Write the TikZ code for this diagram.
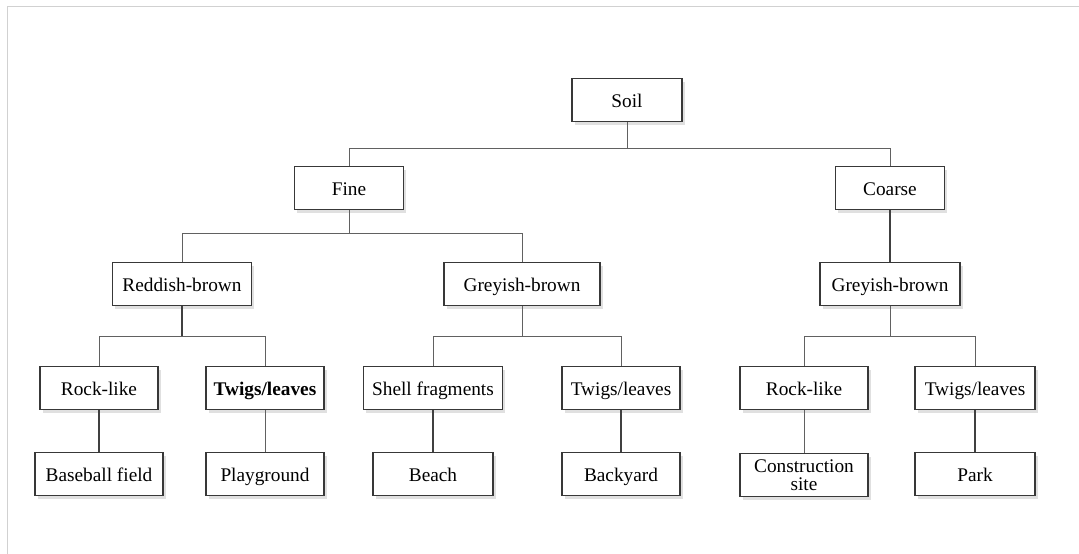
\documentclass[tikz,border=0pt]{standalone}
\usepackage{fontspec}
\setmainfont{Liberation Serif}
\usetikzlibrary{shadows}
\begin{document}
\begin{tikzpicture}[x=1pt,y=-1pt,
  box/.style={draw=black!78, line width=1.5pt, fill=white, inner sep=0pt,
    minimum height=43pt, text height=15pt, text depth=1pt,
    font=\fontsize{19.3}{19}\selectfont, align=center,
    drop shadow={shadow xshift=2.5pt, shadow yshift=-3pt, opacity=0.12, fill=black}},
  link/.style={draw=black!62, line width=1pt},
  heavy/.style={draw=black!75, line width=1.8pt}]
\useasboundingbox (0,0) rectangle (1079,554);
\draw[black!18, line width=1pt] (7,554) -- (7,6) -- (1079,6);
% level 0
\node[box, minimum width=110pt] (soil) at (627,100) {Soil};
% level 1
\node[box, minimum width=109pt] (fine) at (349,188) {Fine};
\node[box, minimum width=109pt] (coarse) at (890,188) {Coarse};
% level 2
\node[box, minimum width=139pt] (rb) at (182,284) {Reddish-brown};
\node[box, minimum width=156pt] (gbf) at (522,284) {Greyish-brown};
\node[box, minimum width=140pt] (gbc) at (890,284) {Greyish-brown};
% level 3
\node[box, minimum width=118pt] (rock1) at (99,388) {Rock-like};
\node[box, minimum width=118pt] (twig1) at (265,388) {\bfseries Twigs/leaves};
\node[box, minimum width=139pt] (shell) at (433,388) {Shell fragments};
\node[box, minimum width=118pt] (twig2) at (621,388) {Twigs/leaves};
\node[box, minimum width=128pt] (rock2) at (804,388) {Rock-like};
\node[box, minimum width=120pt] (twig3) at (975,388) {Twigs/leaves};
% level 4
\node[box, minimum width=128pt] (base) at (99,474) {Baseball field};
\node[box, minimum width=118pt] (play) at (265,474) {Playground};
\node[box, minimum width=120pt] (beach) at (433,474) {Beach};
\node[box, minimum width=118pt] (back) at (621,474) {Backyard};
\node[box, minimum width=128pt, text height=, text depth=, text width=128pt] (cons) at (804,475) {Construction\\[-1pt]site};
\node[box, minimum width=120pt] (park) at (975,474) {Park};
% connectors
\draw[link] (fine.north) |- ([yshift=-26pt]soil.south) -| (coarse.north);
\draw[link] (soil.south) -- ++(0,26);
\draw[heavy] (coarse.south) -- (gbc.north);
\draw[link] (rb.north) |- ([yshift=-23pt]fine.south) -| (gbf.north);
\draw[link] (fine.south) -- ++(0,23);
\draw[heavy] (rb.south) -- ++(0,30);
\draw[link] (rock1.north) |- ([yshift=-30pt]rb.south) -| (twig1.north);
\draw[link] (gbf.south) -- ++(0,30);
\draw[link] (shell.north) |- ([yshift=-30pt]gbf.south) -| (twig2.north);
\draw[link] (gbc.south) -- ++(0,30);
\draw[link] (rock2.north) |- ([yshift=-30pt]gbc.south) -| (twig3.north);
\draw[heavy] (rock1.south) -- (base.north);
\draw[link] (twig1.south) -- (play.north);
\draw[heavy] (shell.south) -- (beach.north);
\draw[heavy] (twig2.south) -- (back.north);
\draw[link] (rock2.south) -- (cons.north);
\draw[heavy] (twig3.south) -- (park.north);
\end{tikzpicture}
\end{document}
